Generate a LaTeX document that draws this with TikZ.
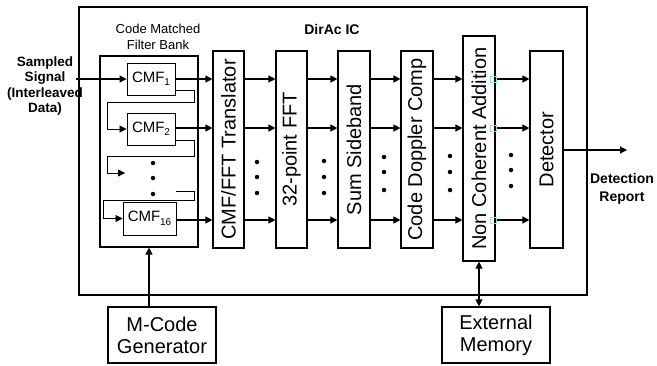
\documentclass[tikz,border=0pt]{standalone}
\usepackage{fontspec}
\setmainfont{Liberation Sans}
\usetikzlibrary{arrows.meta}
\begin{document}
\begin{tikzpicture}[x=1pt,y=-1pt,
  tip/.tip={Triangle[length=7pt,width=7pt]},
  box/.style={draw, line width=1.1pt, inner sep=0pt},
  blk/.style={box, minimum width=31pt, minimum height=197pt},
  cmf/.style={box, line width=0.9pt, minimum width=48pt, minimum height=32pt, font=\fontsize{15}{15}\selectfont},
  arr/.style={line width=1.1pt, -tip},
  chain/.style={line width=0.8pt, -tip},
  dot/.style={fill, circle, inner sep=0pt, minimum size=4.5pt},
  lbl/.style={rotate=90, inner sep=0pt, font=\fontsize{20}{20}\selectfont},
  bold/.style={font=\fontsize{13.5}{15.5}\selectfont\bfseries, align=center, inner sep=0pt},
  ext/.style={box, minimum width=108pt, minimum height=56pt, align=center, font=\fontsize{20}{22}\selectfont},
  cp/.style={draw=cyan!40, line width=0.5pt, minimum size=6pt, inner sep=0pt}
]
\useasboundingbox (0,0) rectangle (657,365);
\newcommand{\cmfsub}[1]{CMF\kern-0.3pt\raisebox{-3.5pt}{\fontsize{10}{10}\selectfont #1}}
% outer IC box
\node[box, line width=1.4pt, minimum width=508pt, minimum height=288pt] (ic) at (333,151) {};
\node[bold, font=\fontsize{14}{16}\selectfont\bfseries] (ictitle) at (332,29) {DirAc IC};
% filter bank
\node[box, minimum width=98pt, minimum height=191pt] (fb) at (149,151.5) {};
\node[align=center, inner sep=0pt, font=\fontsize{13}{16}\selectfont] (fbtitle) at (158,37) {Code Matched\\Filter Bank};
\node[cmf] (c1) at (151,79) {\cmfsub{1}};
\node[cmf] (c2) at (151,129) {\cmfsub{2}};
\node[cmf, minimum width=53pt, minimum height=33pt] (c16) at (149.5,218.5) {\cmfsub{16}};
% input
\node[bold] (insig) at (45,86) {Sampled\\Signal\\(Interleaved\\Data)};
\coordinate (inpt) at (76,79);
\draw[arr] (inpt) -- (c1.west);
% chain
\draw[chain] ([yshift=-11pt]c1.east) -- ++(19,0) -- ++(0,12) -| ([xshift=-19pt]c2.west) -- (c2.west);
\coordinate (free) at (125,173);
\draw[chain] ([yshift=-11pt]c2.east) -- ++(19,0) -- ++(0,16) -| ([xshift=-18pt]free) -- (free);
\coordinate (cstart) at (176,191);
\draw[line width=0.8pt] (cstart) -- ++(18,0) -- ++(0,9) -| ([xshift=-19pt]c16.west);
\draw[chain] ([xshift=-19pt]c16.west) -- (c16.west);
\node[dot] (fd1) at (153,163) {};
\node[dot] (fd2) at (153,178) {};
\node[dot] (fd3) at (153,194) {};
% blocks
\node[blk] (tr) at (228.5,149.5) {};
\node[lbl] (trl) at (tr) {CMF/FFT Translator};
\node[blk] (fft) at (291.5,149.5) {};
\node[lbl] (fftl) at (fft) {32-point FFT};
\node[blk, minimum width=32pt] (sum) at (354,149.5) {};
\node[lbl] (suml) at (sum) {Sum Sideband};
\node[blk, minimum width=32pt] (dop) at (417,149.5) {};
\node[lbl] (dopl) at (dop) {Code Doppler Comp};
\node[blk, minimum width=32pt, minimum height=225pt] (nca) at (479,148.5) {};
\node[lbl] (ncal) at (nca) {Non Coherent Addition};
\node[blk, minimum width=33pt] (det) at (546.5,149.5) {};
\node[lbl] (detl) at (det) {Detector};
% rows
\coordinate (r1) at (0,79);
\coordinate (r2) at (0,128);
\coordinate (r3) at (0,220);
\draw[arr] (c1.east) -- (tr.west |- c1.east);
\draw[arr] (c2.east |- r2) -- (tr.west |- r2);
\draw[arr] (c16.east |- r3) -- (tr.west |- r3);
\foreach \a/\b in {tr/fft, fft/sum, sum/dop, dop/nca, nca/det}{
  \draw[arr] (\a.east |- r1) -- (\b.west |- r1);
  \draw[arr] (\a.east |- r2) -- (\b.west |- r2);
  \draw[arr] (\a.east |- r3) -- (\b.west |- r3);
}
\node[cp] (cp1) at ([xshift=-2pt]nca.east |- r1) {};
\node[cp] (cp2) at ([xshift=-2pt]nca.east |- r2) {};
\node[cp] (cp3) at ([xshift=-2pt]nca.east |- r3) {};
% dots between blocks
\foreach \x/\ya/\yb/\yc in {257/162/177/193, 324/161/177/193, 384/157/172/190, 450/156/172/190, 511/155/170/186}{
  \node[dot] at (\x,\ya) {};
  \node[dot] at (\x,\yb) {};
  \node[dot] at (\x,\yc) {};
}
% output
\coordinate (out) at (627,150);
\draw[arr] (det.east |- out) -- (out);
\node[bold, font=\fontsize{14}{18}\selectfont\bfseries] (report) at (622,189) {Detection\\Report};
% bottom boxes
\node[ext] (mcode) at (162,335) {M-Code\\Generator};
\node[ext] (mem) at (496,335) {External\\Memory};
\draw[arr] (mcode.north -| fb.south) -- (fb.south);
\draw[line width=1.1pt, tip-tip] (nca.south) -- (mem.north -| nca.south);
\end{tikzpicture}
\end{document}
